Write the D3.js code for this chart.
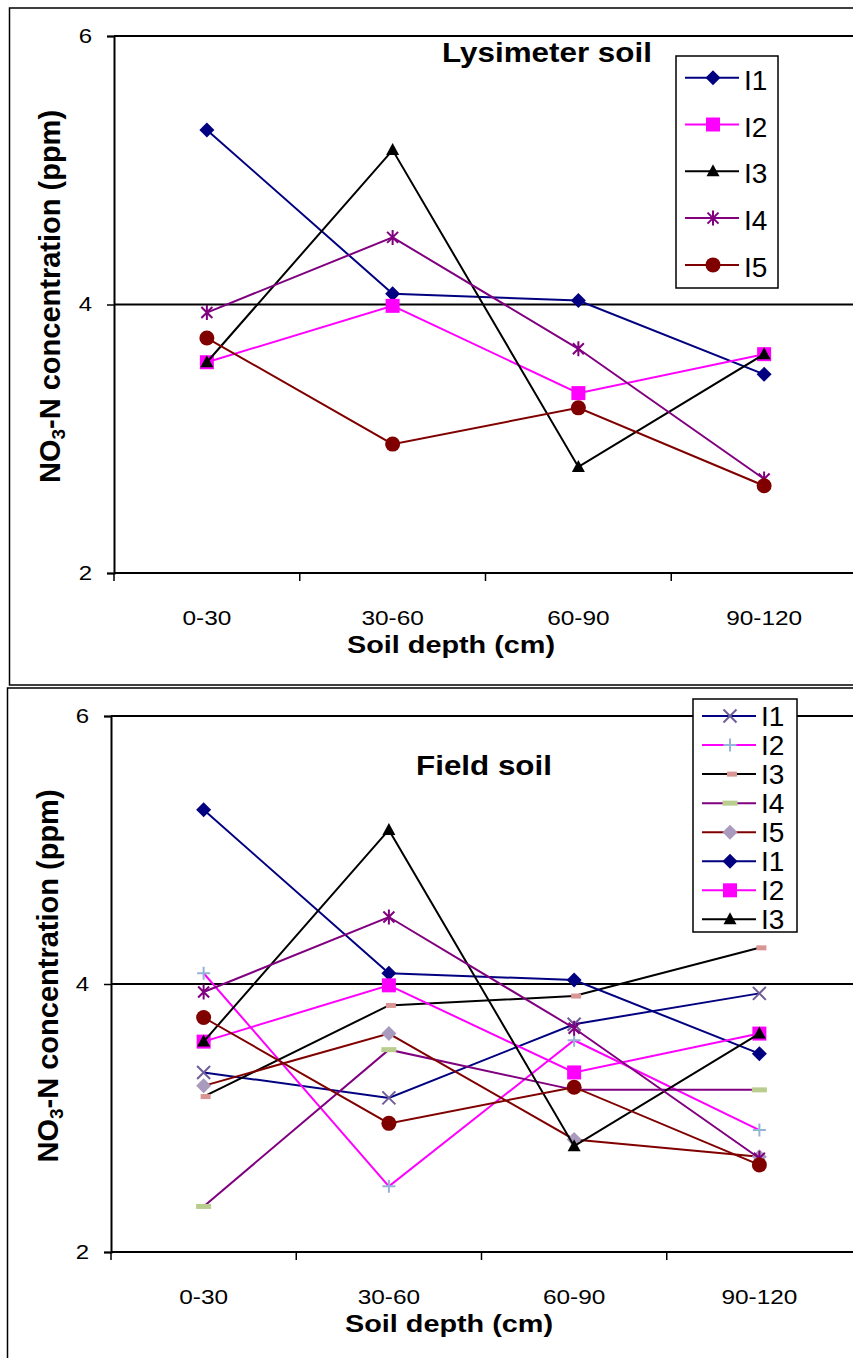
<!DOCTYPE html>
<html>
<head>
<meta charset="utf-8">
<script src="https://cdn.jsdelivr.net/npm/d3@7"></script>
<style>
  body { margin: 0; background: #fff; }
  svg { display: block; font-family: Arial, "Liberation Sans", sans-serif; }
</style>
</head>
<body>
<script>
// Soil depth classes on the x axis
const categories = ["0-30", "30-60", "60-90", "90-120"];
const yTicks = [2, 4, 6];

// Lysimeter soil NO3-N (ppm) by depth
const lysI1 = [5.30, 4.08, 4.03, 3.48];
const lysI2 = [3.57, 3.99, 3.34, 3.63];
const lysI3 = [3.57, 5.15, 2.79, 3.63];
const lysI4 = [3.94, 4.50, 3.67, 2.70];
const lysI5 = [3.75, 2.96, 3.23, 2.65];

// Field soil NO3-N (ppm) by depth
const fieldI1 = [3.34, 3.15, 3.70, 3.93];
const fieldI2 = [4.08, 2.49, 3.58, 2.91];
const fieldI3 = [3.16, 3.84, 3.91, 4.27];
const fieldI4 = [2.34, 3.51, 3.21, 3.21];
const fieldI5 = [3.24, 3.63, 2.84, 2.71];

const lysSeries = [
  { name: "I1", values: lysI1, line: "#000080", marker: "diamond", fill: "#000080" },
  { name: "I2", values: lysI2, line: "#FF00FF", marker: "square", fill: "#FF00FF" },
  { name: "I3", values: lysI3, line: "#000000", marker: "triangle", fill: "#000000" },
  { name: "I4", values: lysI4, line: "#800080", marker: "star", fill: "#800080" },
  { name: "I5", values: lysI5, line: "#800000", marker: "circle", fill: "#800000" }
];
const fieldSeries = [
  { name: "I1", values: fieldI1, line: "#000080", marker: "x", fill: "#6F5E98" },
  { name: "I2", values: fieldI2, line: "#FF00FF", marker: "plus", fill: "#95B3D7" },
  { name: "I3", values: fieldI3, line: "#000000", marker: "rect", fill: "#D99694" },
  { name: "I4", values: fieldI4, line: "#800080", marker: "dash", fill: "#B9CD8F" },
  { name: "I5", values: fieldI5, line: "#800000", marker: "diamond", fill: "#A99BBD" }
];

const W = 853, H = 1358;
const svg = d3.select("body").append("svg").attr("width", W).attr("height", H);

// widen a text element horizontally by factor k
function stretch(sel, k) {
  sel.each(function () {
    const w = this.getComputedTextLength();
    d3.select(this).attr("textLength", w * k).attr("lengthAdjust", "spacingAndGlyphs");
  });
}

function drawMarker(g, type, color) {
  switch (type) {
    case "diamond":
      g.append("path").attr("d", "M0,-7.5L7.5,0L0,7.5L-7.5,0Z").attr("fill", color); break;
    case "square":
      g.append("rect").attr("x", -7).attr("y", -7).attr("width", 14).attr("height", 14).attr("fill", color); break;
    case "triangle":
      g.append("path").attr("d", "M0,-7L6.5,5L-6.5,5Z").attr("fill", color); break;
    case "star":
      g.append("path").attr("d", "M-5.5,-5.5L5.5,5.5M-5.5,5.5L5.5,-5.5M0,-7.5L0,7.5")
        .attr("stroke", color).attr("stroke-width", 2).attr("fill", "none"); break;
    case "circle":
      g.append("circle").attr("r", 7.5).attr("fill", color); break;
    case "x":
      g.append("path").attr("d", "M-6.5,-6.5L6.5,6.5M-6.5,6.5L6.5,-6.5")
        .attr("stroke", color).attr("stroke-width", 2).attr("fill", "none"); break;
    case "plus":
      g.append("path").attr("d", "M-6.5,0L6.5,0M0,-6.5L0,6.5")
        .attr("stroke", color).attr("stroke-width", 2).attr("fill", "none"); break;
    case "rect":
      g.append("rect").attr("x", -3).attr("y", -2.5).attr("width", 10).attr("height", 5).attr("fill", color); break;
    case "dash":
      g.append("rect").attr("x", -7.5).attr("y", -2.5).attr("width", 15).attr("height", 5).attr("fill", color); break;
  }
}

function drawPanel(p) {
  const g = svg.append("g");

  // chart border
  g.append("path")
    .attr("d", `M${W + 5},${p.frame.y}H${p.frame.x}V${p.frame.bottom}H${W + 5}`)
    .attr("fill", "none").attr("stroke", "#000").attr("stroke-width", 1.5);

  const x = d3.scaleBand().domain(categories).range([p.left, p.right]);
  const y = d3.scaleLinear().domain([2, 6]).range([p.bottom, p.top]);

  // plot area top edge and gridline
  g.append("line").attr("x1", p.left).attr("x2", W).attr("y1", y(6)).attr("y2", y(6))
    .attr("stroke", "#000").attr("stroke-width", 2);
  g.append("line").attr("x1", p.left).attr("x2", W).attr("y1", y(4)).attr("y2", y(4))
    .attr("stroke", "#000").attr("stroke-width", 2);

  // y axis
  const ya = g.append("g").attr("transform", `translate(${p.left},0)`)
    .call(d3.axisLeft(y).tickValues(yTicks).tickSize(7).tickPadding(15).tickFormat(d3.format("d")));
  ya.attr("font-size", null).attr("font-family", null);
  ya.select(".domain").attr("stroke-width", 2);
  ya.selectAll(".tick line").attr("stroke-width", 1.5);
  ya.selectAll("text").style("font-size", "20px").attr("fill", "#000");
  stretch(ya.selectAll("text"), 1.2);

  // x axis: tick marks at category boundaries, labels at centres
  const xa = g.append("g").attr("transform", `translate(0,${p.bottom})`)
    .call(d3.axisBottom(x).tickSize(0).tickPadding(0));
  xa.attr("font-size", null).attr("font-family", null);
  xa.select(".domain").attr("d", `M${p.left},0H${W}`).attr("stroke-width", 2);
  xa.selectAll(".tick text").style("font-size", "20px").attr("fill", "#000")
    .attr("y", p.tickLabelDy).attr("dy", 0);
  stretch(xa.selectAll(".tick text"), 1.22);
  g.selectAll(".bt").data(categories).join("line")
    .attr("x1", d => x(d)).attr("x2", d => x(d))
    .attr("y1", p.bottom).attr("y2", p.bottom + 8)
    .attr("stroke", "#000").attr("stroke-width", 1.5);

  // axis titles
  const xt = g.append("text").attr("x", p.xTitleX).attr("y", p.xTitleY)
    .attr("text-anchor", "middle").attr("font-weight", "bold").attr("font-size", 24)
    .text("Soil depth (cm)");
  stretch(xt, 1.2);

  const yt = g.append("text")
    .attr("transform", `translate(${p.yTitleX},${(p.top + p.bottom) / 2 - 8}) rotate(-90)`)
    .attr("text-anchor", "middle").attr("font-weight", "bold").attr("font-size", 29);
  yt.append("tspan").text("NO");
  yt.append("tspan").text("3").attr("font-size", 19).attr("dy", 5);
  yt.append("tspan").text("-N concentration (ppm)").attr("dy", -5);

  // panel title
  const tt = g.append("text").attr("x", p.titleX).attr("y", p.titleY)
    .attr("text-anchor", "middle").attr("font-weight", "bold").attr("font-size", 28)
    .text(p.title);
  stretch(tt, 1.12);

  // series: line first, then its markers
  const line = d3.line().x((d, i) => x(categories[i]) + x.bandwidth() / 2).y(d => y(d));
  p.series.forEach(s => {
    g.append("path").attr("d", line(s.values)).attr("fill", "none")
      .attr("stroke", s.line).attr("stroke-width", 2);
    s.values.forEach((v, i) => {
      const m = g.append("g")
        .attr("transform", `translate(${x(categories[i]) + x.bandwidth() / 2},${y(v)})`);
      drawMarker(m, s.marker, s.fill);
    });
  });

  // legend
  const L = p.legend;
  const lg = g.append("g");
  lg.append("rect").attr("x", L.x).attr("y", L.y).attr("width", L.w).attr("height", L.h)
    .attr("fill", "#fff").attr("stroke", "#000").attr("stroke-width", 1.5);
  L.items.forEach((s, i) => {
    const cy = L.row0 + i * L.step;
    lg.append("line").attr("x1", L.x + 9).attr("x2", L.x + 63).attr("y1", cy).attr("y2", cy)
      .attr("stroke", s.line).attr("stroke-width", 2);
    drawMarker(lg.append("g").attr("transform", `translate(${L.x + 37},${cy})`), s.marker, s.fill);
    lg.append("text").attr("x", L.x + 68).attr("y", cy + L.textDy)
      .attr("font-size", 28).text(s.name);
  });
}

drawPanel({
  left: 114, right: 857, top: 36, bottom: 573,
  frame: { x: 9.5, y: 8, bottom: 685 },
  title: "Lysimeter soil", titleX: 547, titleY: 62,
  tickLabelDy: 52, xTitleX: 451, xTitleY: 653, yTitleX: 60,
  series: lysSeries,
  legend: { x: 676, y: 56, w: 102, h: 232, row0: 77.7, step: 46.8, textDy: 12, items: lysSeries }
});

drawPanel({
  left: 111, right: 852, top: 716, bottom: 1252,
  frame: { x: 7.5, y: 688, bottom: H + 5 },
  title: "Field soil", titleX: 484, titleY: 775,
  tickLabelDy: 52, xTitleX: 449, xTitleY: 1332, yTitleX: 58,
  series: fieldSeries.concat(lysSeries),
  legend: { x: 693, y: 699, w: 104, h: 233, row0: 716, step: 29.05, textDy: 10,
            items: fieldSeries.concat(lysSeries.slice(0, 3)) }
});
</script>
</body>
</html>
